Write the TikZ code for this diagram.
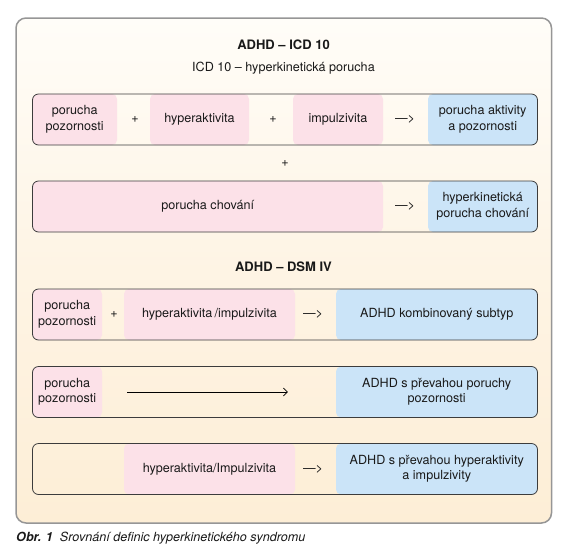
\documentclass[tikz,border=0pt]{standalone}
\usepackage{fontspec}
\setmainfont{TeX Gyre Heros}
\usetikzlibrary{arrows.meta}
\definecolor{pinkf}{RGB}{252,225,232}
\definecolor{bluef}{RGB}{203,228,248}
\definecolor{bgtop}{RGB}{255,253,248}
\definecolor{bgmid}{RGB}{254,244,228}
\definecolor{bgbot}{RGB}{253,238,214}
\definecolor{framec}{RGB}{150,150,150}
\definecolor{rowline}{RGB}{60,60,60}
\definecolor{txt}{RGB}{25,25,25}
\begin{document}
\begin{tikzpicture}[x=1pt,y=-1pt,
  font=\fontsize{12.6}{15.5}\selectfont, text=txt,
  cell/.style={rounded corners=5pt, inner sep=0pt, align=center, minimum height=51pt},
  pinkcell/.style={cell, fill=pinkf},
  bluecell/.style={cell, fill=bluef},
  rowbox/.style={draw=rowline, line width=0.8pt, rounded corners=6pt, inner sep=0pt, minimum width=505pt, minimum height=51pt},
  sym/.style={inner sep=0pt},
  title/.style={inner sep=0pt, font=\fontsize{13}{15}\selectfont\bfseries}]
\useasboundingbox (0,0) rectangle (566,558);
\shade[top color=bgtop, bottom color=bgbot, middle color=bgmid, rounded corners=10pt] (16,18) rectangle (551.5,523);
\draw[framec, line width=1.5pt, rounded corners=10pt] (16,18) rectangle (551.5,523);

\node[title] (t1) at (283.5,45) {ADHD – ICD 10};
\node[inner sep=0pt] (t2) at (283.5,68) {ICD 10 – hyperkinetická porucha};

% Row 1
\node[pinkcell, minimum width=84.5pt] (r1a) at (74.75,119.5) {porucha\\pozornosti};
\node[sym] (r1p1) at (135,119.5) {+};
\node[pinkcell, minimum width=99pt] (r1b) at (199.5,119.5) {hyperaktivita};
\node[sym] (r1p2) at (273,119.5) {+};
\node[pinkcell, minimum width=90pt] (r1c) at (338,119.5) {impulzivita};
\node[sym] (r1ar) at (405,119.5) {—>};
\node[bluecell, minimum width=109.5pt] (r1d) at (482.75,119.5) {porucha aktivity\\a pozornosti};
\node[rowbox] (row1) at (285,119.5) {};

\node[sym] (plus) at (285,164) {+};

% Row 2
\node[pinkcell, minimum width=350.5pt] (r2a) at (207.75,206.5) {porucha chování};
\node[sym] (r2ar) at (405,206.5) {—>};
\node[bluecell, minimum width=109.5pt] (r2d) at (482.75,206.5) {hyperkinetická\\porucha chování};
\node[rowbox] (row2) at (285,206.5) {};

\node[title] (t3) at (283.5,267) {ADHD – DSM IV};

% Row 3
\node[pinkcell, minimum width=69.5pt] (r3a) at (67.25,314.5) {porucha\\pozornosti};
\node[sym] (r3p) at (114,314.5) {+};
\node[pinkcell, minimum width=171pt] (r3b) at (209.5,314.5) {hyperaktivita\,/impulzivita};
\node[sym] (r3ar) at (313,314.5) {—>};
\node[bluecell, minimum width=201.5pt] (r3d) at (436.75,314.5) {ADHD kombinovaný subtyp};
\node[rowbox] (row3) at (285,314.5) {};

% Row 4
\node[pinkcell, minimum width=69.5pt] (r4a) at (67.25,392) {porucha\\pozornosti};
\node[bluecell, minimum width=201.5pt] (r4d) at (436.75,392) {ADHD s převahou poruchy\\pozornosti};
\node[rowbox] (row4) at (285,392) {};
\draw[line width=1pt, -{Straight Barb[length=4pt,width=8pt,line width=0.6pt]}, shorten <=25pt, shorten >=48pt] (r4a.east) -- (r4d.west);

% Row 5
\node[pinkcell, minimum width=171pt] (r5b) at (209.5,469) {hyperaktivita/Impulzivita};
\node[sym] (r5ar) at (313,469) {—>};
\node[bluecell, minimum width=201.5pt] (r5d) at (436.75,469) {ADHD s převahou hyperaktivity\\a impulzivity};
\node[rowbox] (row5) at (285,469) {};

\node[anchor=west, inner sep=0pt, font=\fontsize{12.6}{15}\selectfont\itshape] (cap) at (16,538) {\textbf{Obr. 1}\hspace{0.55em}Srovnání definic hyperkinetického syndromu};
\end{tikzpicture}
\end{document}
